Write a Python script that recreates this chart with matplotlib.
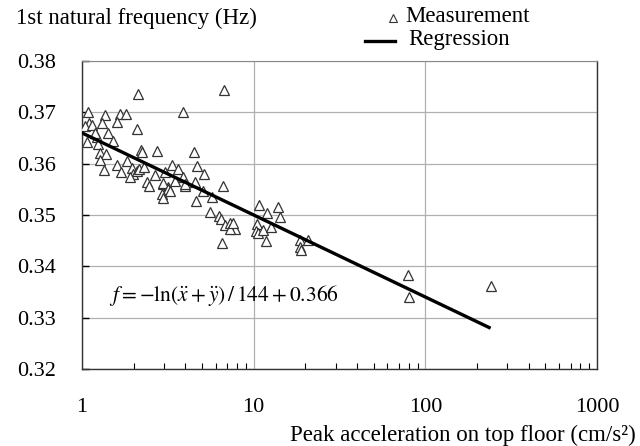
import matplotlib
matplotlib.use("Agg")
import matplotlib.pyplot as plt
import matplotlib.ticker as mticker
from matplotlib.lines import Line2D
import numpy as np

plt.rcParams['font.family'] = ['Liberation Serif', 'DejaVu Serif']
plt.rcParams['mathtext.fontset'] = 'stix'

# measured points: peak acceleration (cm/s2), 1st natural frequency (Hz)
acc = [2.13, 1.08, 1.37, 1.66, 1.80, 1.10, 1.31, 1.59, 1.04, 2.08,
       1.065, 1.23, 1.245, 1.42, 1.52, 1.27, 1.39, 1.28, 2.21, 2.24,
       2.75, 1.35, 1.59, 1.68, 1.82, 1.95, 1.99, 1.90, 2.10, 2.16,
       2.30, 2.40, 2.47, 2.66, 1.15, 1.19,
       6.74, 3.89, 4.49, 4.66, 3.33, 3.64, 3.04, 5.13, 3.89, 6.65,
       2.98, 3.18, 4.55, 3.98, 3.47,
       2.98, 3.18, 2.91, 2.98, 3.25, 3.98, 5.05, 5.69, 4.59, 5.57,
       6.31, 6.45, 6.81, 7.28, 7.8, 7.28, 6.5,
       7.6, 10.8, 11.9, 13.9, 14.2, 10.5, 10.3, 10.6, 11.4, 12.6,
       11.8, 18.6, 20.8, 18.6, 18.8,
       79.5, 80.6, 240.0]
freq = [0.3735, 0.3701, 0.3695, 0.3696, 0.3696, 0.3680, 0.3679, 0.3681, 0.3673, 0.3668,
        0.3642, 0.3652, 0.3639, 0.3659, 0.3645, 0.3621, 0.3618, 0.3608, 0.3626, 0.3622,
        0.3624, 0.3587, 0.3598, 0.3584, 0.3605, 0.3592, 0.3580, 0.3574, 0.3585, 0.3590,
        0.3593, 0.3564, 0.3556, 0.3578, 0.3675, 0.3659,
        0.3743, 0.3701, 0.3623, 0.3595, 0.3597, 0.3590, 0.3584, 0.3580, 0.3574, 0.3556,
        0.3561, 0.3554, 0.3564, 0.3556, 0.3567,
        0.3562, 0.3551, 0.3541, 0.3534, 0.3547, 0.3561, 0.3547, 0.3536, 0.3527, 0.3506,
        0.3499, 0.3493, 0.3480, 0.3484, 0.3473, 0.3473, 0.3445,
        0.3484, 0.3519, 0.3504, 0.3515, 0.3496, 0.3483, 0.3469, 0.3464, 0.3470, 0.3476,
        0.3449, 0.3452, 0.3452, 0.3437, 0.3431,
        0.3384, 0.3341, 0.3361]

# regression f = -ln(a)/144 + 0.366
reg_slope = 144.0
reg_icpt = 0.366
reg_x = np.array([1.0, 235.0])

W, H = 640, 446
fig = plt.figure(figsize=(6.4, 4.46), dpi=100)
ax = fig.add_axes([0.128, 0.1726, 0.805, 0.6906])

ax.plot(acc, freq, linestyle='none', marker='^', markersize=7.5,
        markerfacecolor='white', markeredgecolor='#333333', markeredgewidth=0.9,
        zorder=3)
xx = np.geomspace(reg_x[0], reg_x[1], 50)
ax.plot(xx, -np.log(xx) / reg_slope + reg_icpt, color='black', lw=2.4, zorder=4)

ax.set_xscale('log')
ax.set_xlim(1, 1000)
ax.set_ylim(0.32, 0.38)
ax.set_yticks(np.arange(0.32, 0.3801, 0.01))
ax.yaxis.set_major_formatter(mticker.FormatStrFormatter('%.2f'))
ax.xaxis.set_major_locator(mticker.FixedLocator([1, 10, 100, 1000]))
ax.xaxis.set_major_formatter(mticker.FuncFormatter(lambda v, p: '%d' % v))
ax.xaxis.set_minor_locator(mticker.LogLocator(base=10, subs=np.arange(2, 10)))
ax.xaxis.set_minor_formatter(mticker.NullFormatter())

ax.grid(True, which='major', color='#b0b0b0', lw=0.9)
ax.tick_params(axis='both', which='both', direction='in', labelsize=16,
               top=False, right=False, colors='black')
ax.tick_params(axis='x', which='major', length=0, pad=21)
ax.tick_params(axis='x', which='minor', length=4, width=0.8)
ax.tick_params(axis='y', which='major', length=5, width=1.0, pad=19)

for s in ['left', 'bottom', 'right']:
    ax.spines[s].set_color('#333333')
    ax.spines[s].set_linewidth(1.0)
ax.spines['top'].set_color('#888888')

ax.text(1.43, 0.3343,
        r'$f = -\mathrm{ln}(\ddot{x} + \ddot{y})\,/\,144 + 0.366$',
        fontsize=15.5, va='center', ha='left', zorder=5)

fig.text(16 / W, 1 - 18 / H, '1st natural frequency (Hz)', fontsize=16.5, va='center')
fig.text(636 / W, 1 - 435 / H, 'Peak acceleration on top floor (cm/s²)', fontsize=16.5,
         ha='right', va='center')

# legend drawn by hand
fig.add_artist(Line2D([393 / W], [1 - 18 / H], linestyle='none', marker='^',
                      markersize=6, markerfacecolor='white', markeredgecolor='#333333',
                      markeredgewidth=0.8))
fig.add_artist(Line2D([365 / W, 395 / W], [1 - 41 / H, 1 - 41 / H],
                      color='black', lw=2.4))
fig.text(405 / W, 1 - 17 / H, 'Measurement', fontsize=16.5, va='center')
fig.text(408 / W, 1 - 40 / H, 'Regression', fontsize=16.5, va='center')

fig.savefig('out.png', dpi=100)
